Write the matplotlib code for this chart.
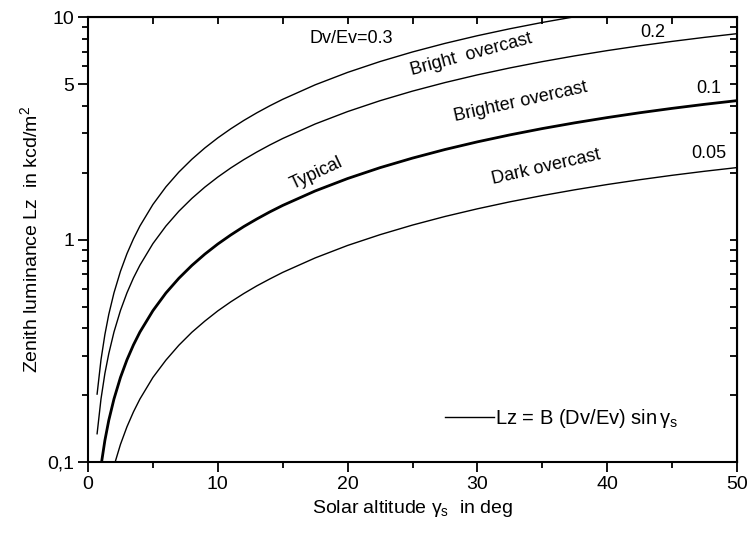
import numpy as np
import matplotlib
matplotlib.use("Agg")
import matplotlib.pyplot as plt
from matplotlib.ticker import FixedLocator, FixedFormatter, NullFormatter

plt.rcParams["font.family"] = ["Liberation Sans", "DejaVu Sans"]
plt.rcParams["mathtext.fontset"] = "custom"
plt.rcParams["mathtext.rm"] = "Liberation Sans"
plt.rcParams["mathtext.it"] = "Liberation Sans"

# solar altitude (deg) and zenith luminance (kcd/m2)
gamma_03 = [0.7, 1, 1.3, 1.6, 2, 2.5, 3, 3.5, 4, 5, 6, 7, 8, 9, 10, 11, 12, 13, 14, 15,
            17.5, 20, 22.5, 25, 27.5, 30, 32.5, 35, 37.5, 40]
lz_03 = [0.202, 0.288, 0.374, 0.461, 0.576, 0.720, 0.864, 1.007, 1.151, 1.438, 1.725,
         2.011, 2.296, 2.581, 2.865, 3.148, 3.431, 3.712, 3.992, 4.271,
         4.962, 5.643, 6.314, 6.973, 7.619, 8.25, 8.865, 9.464, 10.04, 10.61]

gamma_02 = [0.7, 1, 1.3, 1.6, 2, 2.5, 3, 3.5, 4, 5, 6, 7, 8, 9, 10, 11, 12, 13, 14, 15,
            17.5, 20, 22.5, 25, 27.5, 30, 32.5, 35, 37.5, 40, 42.5, 45, 47.5, 50]
lz_02 = [0.134, 0.192, 0.250, 0.307, 0.384, 0.480, 0.576, 0.672, 0.767, 0.959, 1.150,
         1.341, 1.531, 1.721, 1.910, 2.099, 2.287, 2.474, 2.661, 2.847,
         3.308, 3.762, 4.210, 4.649, 5.079, 5.50, 5.910, 6.309, 6.696, 7.071,
         7.431, 7.778, 8.110, 8.426]

gamma_01 = [1, 1.3, 1.6, 2, 2.5, 3, 3.5, 4, 5, 6, 7, 8, 9, 10, 11, 12, 13, 14, 15,
            17.5, 20, 22.5, 25, 27.5, 30, 32.5, 35, 37.5, 40, 42.5, 45, 47.5, 50]
lz_01 = [0.096, 0.125, 0.154, 0.192, 0.240, 0.288, 0.336, 0.384, 0.479, 0.575, 0.670,
         0.765, 0.860, 0.955, 1.049, 1.144, 1.237, 1.331, 1.424,
         1.654, 1.881, 2.105, 2.324, 2.540, 2.75, 2.955, 3.155, 3.348, 3.535,
         3.716, 3.889, 4.055, 4.213]

gamma_005 = [2, 2.5, 3, 3.5, 4, 5, 6, 7, 8, 9, 10, 11, 12, 13, 14, 15,
             17.5, 20, 22.5, 25, 27.5, 30, 32.5, 35, 37.5, 40, 42.5, 45, 47.5, 50]
lz_005 = [0.096, 0.120, 0.144, 0.168, 0.192, 0.240, 0.287, 0.335, 0.383, 0.430, 0.478,
          0.525, 0.572, 0.619, 0.665, 0.712,
          0.827, 0.941, 1.052, 1.162, 1.270, 1.375, 1.478, 1.577, 1.674, 1.768,
          1.858, 1.945, 2.028, 2.107]

y_ticks = [0.1, 1, 5, 10]
y_ticklabels = ["0,1", "1", "5", "10"]

fig = plt.figure(figsize=(7.49, 5.35), dpi=100)
ax = fig.add_axes([0.1175, 0.1364, 0.8665, 0.8316])

ax.plot(gamma_03, lz_03, color="black", lw=1.0)
ax.plot(gamma_02, lz_02, color="black", lw=1.0)
ax.plot(gamma_01, lz_01, color="black", lw=2.0)
ax.plot(gamma_005, lz_005, color="black", lw=1.0,
        label=r"Lz = B (Dv/Ev) sin$\,\gamma_{\rm s}$")

ax.set_yscale("log")
ax.set_xlim(0, 50)
ax.set_ylim(0.1, 10)

ax.xaxis.set_major_locator(FixedLocator([0, 10, 20, 30, 40, 50]))
ax.xaxis.set_minor_locator(FixedLocator([5, 15, 25, 35, 45]))
ax.yaxis.set_major_locator(FixedLocator(y_ticks))
ax.yaxis.set_major_formatter(FixedFormatter(y_ticklabels))
minor_y = [m * d for d in (0.1, 1) for m in range(2, 10) if not (d == 1 and m == 5)]
ax.yaxis.set_minor_locator(FixedLocator(minor_y))
ax.yaxis.set_minor_formatter(NullFormatter())

ax.tick_params(which="both", labelsize=14, width=1.3, direction="out", pad=3)
ax.tick_params(which="major", length=7)
ax.tick_params(which="minor", length=4)
for sp in ax.spines.values():
    sp.set_linewidth(1.5)

# mirrored ticks on top and right, pointing inward
axt = ax.secondary_xaxis("top")
axt.xaxis.set_major_locator(FixedLocator([0, 5, 10, 15, 20, 25, 30, 35, 40, 45, 50]))
axt.tick_params(direction="in", length=5, width=1.3, labeltop=False)
axr = ax.secondary_yaxis("right")
axr.yaxis.set_major_locator(FixedLocator(y_ticks + minor_y))
axr.yaxis.set_minor_locator(FixedLocator([]))
axr.tick_params(which="both", direction="in", length=5, width=1.3, labelright=False)

ax.set_xlabel(r"Solar altitude $\gamma_{\rm s}$  in deg", fontsize=14, labelpad=4)
ax.set_ylabel(r"Zenith luminance Lz  in kcd/m$^2$", fontsize=14, labelpad=4)

txt = dict(fontsize=13, color="black")
ax.text(17.1, 8.0, "Dv/Ev=0.3", ha="left", va="center", **txt)
ax.text(43.5, 8.5, "0.2", ha="center", va="center", **txt)
ax.text(47.8, 4.8, "0.1", ha="center", va="center", **txt)
ax.text(47.8, 2.45, "0.05", ha="center", va="center", **txt)
ax.text(29.5, 6.8, "Bright  overcast", ha="center", va="center", rotation=15, **txt)
ax.text(33.3, 4.15, "Brighter overcast", ha="center", va="center", rotation=12.5, **txt)
ax.text(35.3, 2.12, "Dark overcast", ha="center", va="center", rotation=13, **txt)
ax.text(17.6, 1.98, "Typical", ha="center", va="center", rotation=25, **txt)

ax.legend(loc="center right", bbox_to_anchor=(0.925, 0.097), frameon=False,
          fontsize=14.5, handlelength=2.45, handletextpad=0.05, borderpad=0)

fig.savefig("out.png", dpi=100)
